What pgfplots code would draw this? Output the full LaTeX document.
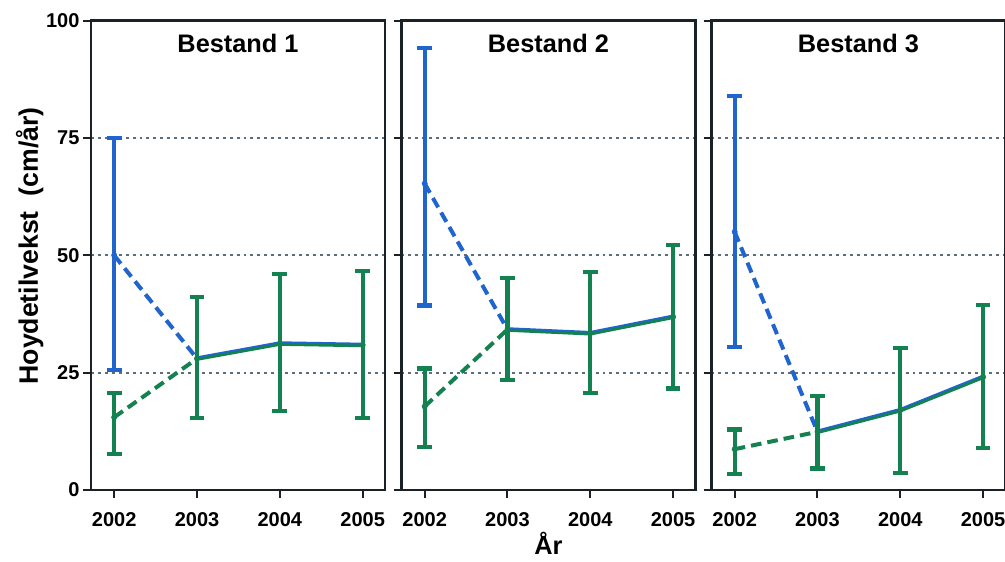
\documentclass[border=0pt]{standalone}
\usepackage{fontspec}
\setmainfont{Liberation Sans}
\usepackage{pgfplots}
\pgfplotsset{compat=1.18}
\definecolor{cblue}{RGB}{32,100,205}
\definecolor{cgreen}{RGB}{20,130,80}
\definecolor{cgrid}{RGB}{90,110,125}
\definecolor{cframe}{RGB}{26,34,40}
\pgfplotsset{
  panel/.style={
    scale only axis, width=220.5pt, height=352pt, anchor=south west,
    xmin=2001.72, xmax=2005.27, ymin=0, ymax=100,
    xtick={2002,2003,2004,2005}, xticklabels={2002,2003,2004,2005},
    ytick={0,25,50,75,100},
    xtick pos=lower, ytick pos=left,
    x tick label style={font=\fontsize{15}{15}\selectfont\bfseries, anchor=base, inner sep=0pt, yshift=-21.5pt},
    y tick label style={font=\fontsize{15}{15}\selectfont\bfseries, anchor=east, inner sep=0pt, xshift=-2.5pt},
    axis line style={line width=2pt, cframe},
    tick align=outside, major tick length=6pt,
    tick style={line width=1.5pt, cframe},
    ymajorgrids, grid style={line width=1.5pt, cgrid, dash pattern=on 2.2pt off 3pt},
    title style={font=\fontsize{19}{19}\selectfont\bfseries, at={(0.5,1)}, anchor=north, inner sep=0pt, yshift=-16pt},
  },
  dashline/.style={line width=3pt, dash pattern=on 8pt off 4.5pt},
  solidline/.style={line width=2pt},
  ebar/.style={only marks, mark=none, forget plot,
    error bars/.cd, y dir=both, y explicit,
    error bar style={line width=3.2pt, #1},
    error mark options={rotate=90, line width=3.2pt, mark size=5.5pt, #1}},
}
\begin{document}
\begin{tikzpicture}
% ---------- Panel 1 ----------
\begin{axis}[panel, at={(68.25pt,53.25pt)}, title={Bestand 1},
  yticklabels={0,25,50,75,100},
  ylabel={Hoydetilvekst\ \ (cm/år)},
  ylabel style={font=\fontsize{20}{20}\selectfont\bfseries, at={(axis description cs:-0.209,0.52)}, anchor=center}]
\addplot[cblue, dashline] coordinates {(2002,50) (2003,28.0)};
\addplot[cgreen, dashline] coordinates {(2002,15.5) (2003,28.0)};
\addplot[cblue, solidline, yshift=0.7pt] coordinates {(2003,28.0) (2004,31.2) (2005,30.9)};
\addplot[cgreen, solidline, yshift=-0.7pt] coordinates {(2003,28.0) (2004,31.2) (2005,30.9)};
\addplot[cblue, ebar=cblue] coordinates {(2002,50) += (0,25) -= (0,24.5)};
\addplot[cgreen, ebar=cgreen] coordinates {
  (2002,15.5) += (0,5.1) -= (0,7.8)
  (2003,28.0) += (0,13.1) -= (0,12.7)
  (2004,31.2) += (0,14.9) -= (0,14.3)
  (2005,30.9) += (0,15.8) -= (0,15.6)};
\end{axis}
% ---------- Panel 2 ----------
\begin{axis}[panel, at={(301.1pt,53.25pt)}, title={Bestand 2},
  yticklabels={},
  xlabel={År},
  xlabel style={font=\fontsize{19}{19}\selectfont\bfseries, at={(axis description cs:0.5,-0.137)}, anchor=south, inner sep=0pt}]
\addplot[cblue, dashline] coordinates {(2002,65.3) (2003,34.2)};
\addplot[cgreen, dashline] coordinates {(2002,17.8) (2003,34.2)};
\addplot[cblue, solidline, yshift=0.7pt] coordinates {(2003,34.2) (2004,33.4) (2005,36.9)};
\addplot[cgreen, solidline, yshift=-0.7pt] coordinates {(2003,34.2) (2004,33.4) (2005,36.9)};
\addplot[cblue, ebar=cblue] coordinates {(2002,65.3) += (0,28.9) -= (0,26.0)};
\addplot[cgreen, ebar=cgreen] coordinates {
  (2002,17.8) += (0,8.1) -= (0,8.7)
  (2003,34.2) += (0,10.9) -= (0,10.8)
  (2004,33.4) += (0,13.0) -= (0,12.8)
  (2005,36.9) += (0,15.3) -= (0,15.3)};
\end{axis}
% ---------- Panel 3 ----------
\begin{axis}[panel, at={(533.6pt,53.25pt)}, title={Bestand 3},
  yticklabels={}]
\addplot[cblue, dashline] coordinates {(2002,55.0) (2003,12.4)};
\addplot[cgreen, dashline] coordinates {(2002,8.7) (2003,12.4)};
\addplot[cblue, solidline, yshift=0.7pt] coordinates {(2003,12.4) (2004,17.0) (2005,24.1)};
\addplot[cgreen, solidline, yshift=-0.7pt] coordinates {(2003,12.4) (2004,17.0) (2005,24.1)};
\addplot[cblue, ebar=cblue] coordinates {(2002,55.0) += (0,29.0) -= (0,24.5)};
\addplot[cgreen, ebar=cgreen] coordinates {
  (2002,8.7) += (0,4.2) -= (0,5.3)
  (2003,12.4) += (0,7.6) -= (0,7.8)
  (2004,17.0) += (0,13.2) -= (0,13.4)
  (2005,24.1) += (0,15.3) -= (0,15.2)};
\end{axis}
\pgfresetboundingbox
\useasboundingbox (0,0) rectangle (753.75pt,420.75pt);
\end{tikzpicture}
\end{document}
